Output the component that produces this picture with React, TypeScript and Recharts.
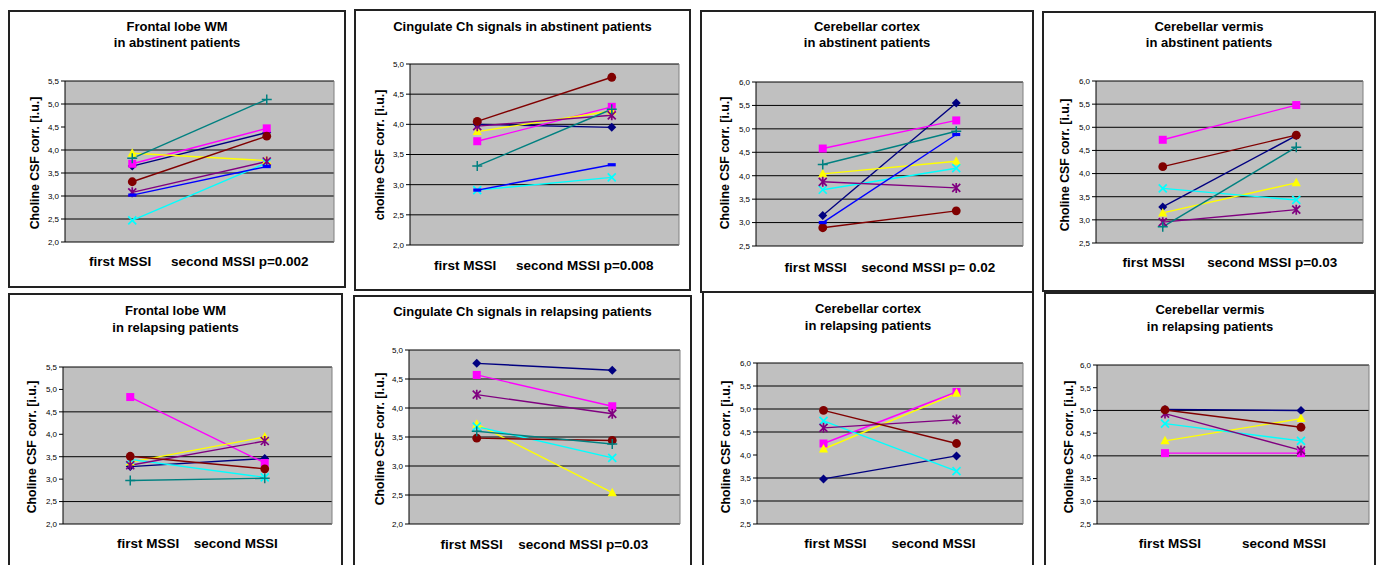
import React from 'react';
import { LineChart, Line, XAxis, YAxis, CartesianGrid } from 'recharts';

// Categories shared by every panel
const visits = ['first MSSI', 'second MSSI'];

// series order: navy, magenta, yellow, cyan, purple, maroon, teal, blue (null = not in panel)
const frontalAbstFirst = [3.65, 3.7, 3.93, 2.47, 3.08, 3.31, 3.82, 3.02];
const frontalAbstSecond = [4.38, 4.47, 3.77, 3.72, 3.75, 4.3, 5.1, 3.64];

const cingulateAbstFirst = [4.0, 3.72, 3.88, 2.91, 3.97, 4.05, 3.31, 2.91];
const cingulateAbstSecond = [3.95, 4.29, 4.22, 3.12, 4.15, 4.78, 4.25, 3.33];

const cortexAbstFirst = [3.15, 4.58, 4.04, 3.7, 3.87, 2.89, 4.24, 3.0];
const cortexAbstSecond = [5.55, 5.18, 4.31, 4.16, 3.74, 3.25, 4.95, 4.88];

const vermisAbstFirst = [3.28, 4.73, 3.15, 3.68, 2.95, 4.15, 2.85, null];
const vermisAbstSecond = [4.82, 5.48, 3.8, 3.43, 3.22, 4.83, 4.57, null];

const frontalRelFirst = [3.28, 4.83, 3.38, 3.44, 3.31, 3.51, 2.97, null];
const frontalRelSecond = [3.46, 3.36, 3.94, 3.04, 3.85, 3.23, 3.02, null];

const cingulateRelFirst = [4.77, 4.57, 3.72, 3.68, 4.23, 3.48, 3.6, null];
const cingulateRelSecond = [4.65, 4.03, 2.54, 3.14, 3.9, 3.44, 3.38, null];

const cortexRelFirst = [3.48, 4.25, 4.13, 4.74, 4.59, 4.97, null, null];
const cortexRelSecond = [3.98, 5.37, 5.34, 3.65, 4.77, 4.25, null, null];

const vermisRelFirst = [5.02, 4.06, 4.33, 4.71, 4.93, 5.01, null, null];
const vermisRelSecond = [5.0, 4.06, 4.82, 4.33, 4.12, 4.63, null, null];

// y tick labels
const ticks20to55 = [2.0, 2.5, 3.0, 3.5, 4.0, 4.5, 5.0, 5.5];
const ticks20to50 = [2.0, 2.5, 3.0, 3.5, 4.0, 4.5, 5.0];
const ticks25to60 = [2.5, 3.0, 3.5, 4.0, 4.5, 5.0, 5.5, 6.0];

// x tick labels
const labelsFrontalAbst = ['first MSSI', 'second MSSI p=0.002'];
const labelsCingulateAbst = ['first MSSI', 'second MSSI p=0.008'];
const labelsCortexAbst = ['first MSSI', 'second MSSI p= 0.02'];
const labelsVermisAbst = ['first MSSI', 'second MSSI p=0.03'];
const labelsCingulateRel = ['first MSSI', 'second MSSI p=0.03'];
const labelsPlain = ['first MSSI', 'second MSSI'];

const SERIES_STYLE = [
  { color: '#000080', shape: 'diamond' },
  { color: '#FF00FF', shape: 'square' },
  { color: '#FFFF00', shape: 'triangle' },
  { color: '#00FFFF', shape: 'x' },
  { color: '#800080', shape: 'star' },
  { color: '#800000', shape: 'circle' },
  { color: '#008080', shape: 'plus' },
  { color: '#0000FF', shape: 'dash' },
];

const FONT = 'Arial, "Liberation Sans", Helvetica, sans-serif';
const YW = 30;
const XH = 30;

const YLABEL = 'Choline CSF corr. [i.u.]';

const PANELS = [
  {
    title: ['Frontal lobe WM', 'in abstinent patients'], titleY: [26.7, 43.3],
    first: frontalAbstFirst, second: frontalAbstSecond, ticks: ticks20to55, xLabels: labelsFrontalAbst,
    yLabel: YLABEL, box: { x: 9, y: 11, w: 336, h: 276 }, plot: { l: 65, t: 81, r: 334, b: 242 },
    labelDx: [-12, -27], labelY: 261, yl: { x: 35, y: 163 },
  },
  {
    title: ['Cingulate Ch signals in abstinent patients'], titleY: [26.7],
    first: cingulateAbstFirst, second: cingulateAbstSecond, ticks: ticks20to50, xLabels: labelsCingulateAbst,
    yLabel: 'choline CSF corr. [i.u.]', box: { x: 355, y: 10, w: 335, h: 280 }, plot: { l: 410, t: 64, r: 679, b: 245 },
    labelDx: [-12, -27], labelY: 265, yl: { x: 380, y: 155 },
  },
  {
    title: ['Cerebellar cortex', 'in abstinent patients'], titleY: [26.7, 43.3],
    first: cortexAbstFirst, second: cortexAbstSecond, ticks: ticks25to60, xLabels: labelsCortexAbst,
    yLabel: YLABEL, box: { x: 701, y: 11, w: 332, h: 281 }, plot: { l: 756, t: 82, r: 1023, b: 246 },
    labelDx: [-7, -28], labelY: 267, yl: { x: 725, y: 163 },
  },
  {
    title: ['Cerebellar vermis', 'in abstinent patients'], titleY: [26.7, 43.3],
    first: vermisAbstFirst, second: vermisAbstSecond, ticks: ticks25to60, xLabels: labelsVermisAbst,
    yLabel: YLABEL, box: { x: 1043, y: 12, w: 332, h: 279 }, plot: { l: 1096, t: 81, r: 1363, b: 243 },
    labelDx: [-9, -24], labelY: 262, yl: { x: 1065, y: 165 },
  },
  {
    title: ['Frontal lobe WM', 'in relapsing patients'], titleY: [311, 328],
    first: frontalRelFirst, second: frontalRelSecond, ticks: ticks20to55, xLabels: labelsPlain,
    yLabel: YLABEL, box: { x: 9, y: 294, w: 333, h: 275 }, plot: { l: 63, t: 367, r: 332, b: 524 },
    labelDx: [18, -29], labelY: 543, yl: { x: 32, y: 447 },
  },
  {
    title: ['Cingulate Ch signals in relapsing patients'], titleY: [312],
    first: cingulateRelFirst, second: cingulateRelSecond, ticks: ticks20to50, xLabels: labelsCingulateRel,
    yLabel: YLABEL, box: { x: 354, y: 296, w: 337, h: 275 }, plot: { l: 409, t: 350, r: 680, b: 524 },
    labelDx: [-5, -29], labelY: 544, yl: { x: 380, y: 439 },
  },
  {
    title: ['Cerebellar cortex', 'in relapsing patients'], titleY: [309, 326],
    first: cortexRelFirst, second: cortexRelSecond, ticks: ticks25to60, xLabels: labelsPlain,
    yLabel: YLABEL, box: { x: 703, y: 292, w: 330, h: 277 }, plot: { l: 757, t: 363, r: 1023, b: 524 },
    labelDx: [12, -23], labelY: 543, yl: { x: 726, y: 447 },
  },
  {
    title: ['Cerebellar vermis', 'in relapsing patients'], titleY: [310, 327],
    first: vermisRelFirst, second: vermisRelSecond, ticks: ticks25to60, xLabels: labelsPlain,
    yLabel: YLABEL, box: { x: 1045, y: 293, w: 330, h: 277 }, plot: { l: 1097, t: 365, r: 1369, b: 524 },
    labelDx: [5, -17], labelY: 543, yl: { x: 1069, y: 447 },
  },
];

function Marker({ cx, cy, shape, color }: any) {
  if (cx == null || cy == null) return null;
  const s = 4;
  switch (shape) {
    case 'diamond':
      return <path d={`M${cx},${cy - 4.5}L${cx + 4.5},${cy}L${cx},${cy + 4.5}L${cx - 4.5},${cy}Z`} fill={color} />;
    case 'square':
      return <rect x={cx - s} y={cy - s} width={s * 2} height={s * 2} fill={color} />;
    case 'triangle':
      return <path d={`M${cx},${cy - 5}L${cx + 4.6},${cy + 3.5}L${cx - 4.6},${cy + 3.5}Z`} fill={color} />;
    case 'x':
      return (
        <path d={`M${cx - s},${cy - s}L${cx + s},${cy + s}M${cx - s},${cy + s}L${cx + s},${cy - s}`} stroke={color} strokeWidth={1.7} />
      );
    case 'star':
      return (
        <path
          d={`M${cx - s},${cy - s}L${cx + s},${cy + s}M${cx - s},${cy + s}L${cx + s},${cy - s}M${cx},${cy - 5}L${cx},${cy + 5}`}
          stroke={color}
          strokeWidth={1.7}
        />
      );
    case 'circle':
      return <circle cx={cx} cy={cy} r={4.4} fill={color} />;
    case 'plus':
      return <path d={`M${cx - 5},${cy}L${cx + 5},${cy}M${cx},${cy - 5}L${cx},${cy + 5}`} stroke={color} strokeWidth={1.5} />;
    case 'dash':
      return <rect x={cx - 4} y={cy - 1.6} width={8} height={3.2} fill={color} />;
    default:
      return null;
  }
}

function Panel({ p }: { p: any }) {
  const data = visits.map((v, i) => {
    const row: any = { visit: v };
    const vals = i === 0 ? p.first : p.second;
    vals.forEach((val: number | null, k: number) => {
      row[`s${k}`] = val;
    });
    return row;
  });
  const active = SERIES_STYLE.map((_, k) => k).filter((k) => p.first[k] != null || p.second[k] != null);
  const margin = {
    top: p.plot.t - p.box.y,
    left: p.plot.l - p.box.x - YW,
    right: p.box.x + p.box.w - p.plot.r - 1,
    bottom: p.box.y + p.box.h - p.plot.b - XH,
  };
  const fmt = (v: number) => v.toFixed(1).replace('.', ',');

  const XTick = (props: any) => {
    const idx = visits.indexOf(props.payload?.value);
    return (
      <text
        x={props.x + p.labelDx[idx]}
        y={p.labelY - p.box.y}
        textAnchor="middle"
        dominantBaseline="central"
        fontSize={13.5}
        fontWeight="bold"
        fontFamily={FONT}
        fill="#000"
      >
        {p.xLabels[idx]}
      </text>
    );
  };

  return (
    <>
      <div
        style={{
          position: 'absolute',
          left: p.box.x - 1,
          top: p.box.y - 1,
          width: p.box.w + 2,
          height: p.box.h + 2,
          border: '2px solid #222',
          boxSizing: 'border-box',
        }}
      />
      {p.title.map((t: string, i: number) => (
        <div
          key={i}
          style={{
            position: 'absolute',
            left: p.box.x,
            width: p.box.w,
            top: p.titleY[i] - 8,
            lineHeight: '16px',
            textAlign: 'center',
            fontFamily: FONT,
            fontSize: 13,
            fontWeight: 'bold',
            color: '#000',
            whiteSpace: 'nowrap',
          }}
        >
          {t}
        </div>
      ))}
      <div
        style={{
          position: 'absolute',
          left: p.yl.x,
          top: p.yl.y,
          transform: 'translate(-50%, -50%) rotate(-90deg)',
          fontFamily: FONT,
          fontSize: 12.3,
          fontWeight: 'bold',
          color: '#000',
          whiteSpace: 'nowrap',
        }}
      >
        {p.yLabel}
      </div>
      <div style={{ position: 'absolute', left: p.box.x, top: p.box.y }}>
        <LineChart width={p.box.w} height={p.box.h} data={data} margin={margin}>
          <CartesianGrid vertical={false} stroke="#000" fill="#C0C0C0" fillOpacity={1} />
          <XAxis
            dataKey="visit"
            scale="band"
            axisLine={false}
            tickLine={false}
            height={XH}
            tick={<XTick />}
            interval={0}
          />
          <YAxis
            domain={[p.ticks[0], p.ticks[p.ticks.length - 1]]}
            ticks={p.ticks}
            tickFormatter={fmt}
            width={YW}
            tickSize={4}
            tick={{ fontSize: 8, fill: '#000', fontFamily: FONT }}
            axisLine={{ stroke: '#000' }}
            tickLine={{ stroke: '#000' }}
            allowDataOverflow
          />
          <YAxis yAxisId="frame" orientation="right" width={1} tick={false} tickLine={false} axisLine={{ stroke: '#808080' }} />
          {active.map((k) => {
            const st = SERIES_STYLE[k];
            return (
              <Line
                key={k}
                dataKey={`s${k}`}
                type="linear"
                stroke={st.color}
                strokeWidth={1.4}
                isAnimationActive={false}
                activeDot={false}
                dot={(dp: any) => <Marker key={`${k}-${dp.index}`} cx={dp.cx} cy={dp.cy} shape={st.shape} color={st.color} />}
              />
            );
          })}
        </LineChart>
      </div>
    </>
  );
}

export default function App() {
  return (
    <div
      style={{
        position: 'absolute',
        left: 0,
        top: 0,
        width: 1377,
        height: 565,
        overflow: 'hidden',
        background: '#fff',
      }}
    >
      {PANELS.map((p, i) => (
        <Panel key={i} p={p} />
      ))}
    </div>
  );
}
